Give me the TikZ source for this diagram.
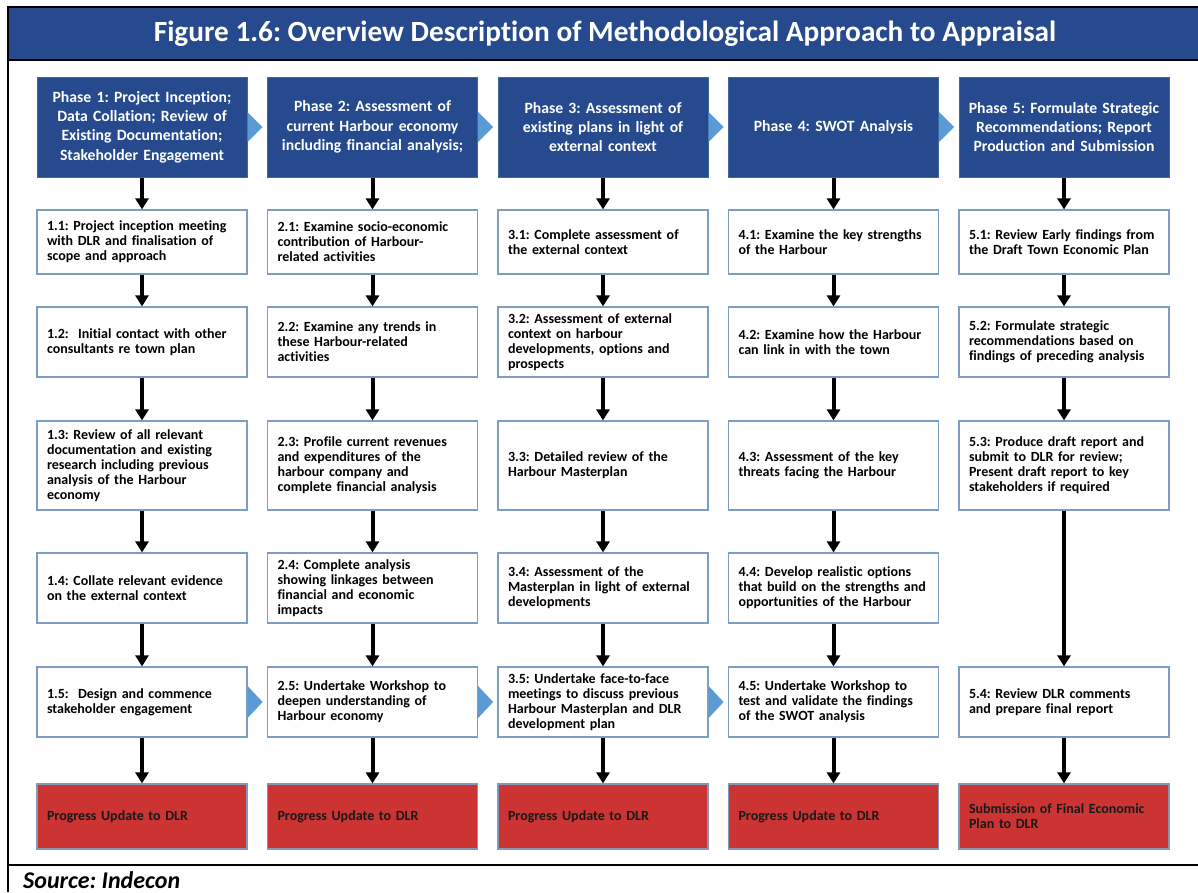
\documentclass[tikz,border=0pt]{standalone}
\usepackage{fontspec}
\setmainfont{Carlito}[Ligatures=NoCommon]
\usetikzlibrary{arrows.meta}
\frenchspacing

\definecolor{navy}{HTML}{264A8D}
\definecolor{phaseedge}{HTML}{3C68A0}
\definecolor{taskedge}{HTML}{7D9CC6}
\definecolor{chev}{HTML}{5B9BD5}
\definecolor{repred}{HTML}{CC3333}
\definecolor{rededge}{HTML}{8497B5}

\tikzset{
  phase/.style={draw=phaseedge, fill=navy, line width=1pt,
    minimum width=210pt, minimum height=100pt, text width=206pt,
    align=center, text=white, inner sep=0pt,
    font=\bfseries\fontsize{15.7}{19.3}\selectfont},
  task/.style={draw=taskedge, fill=white, line width=1.2pt,
    minimum width=210pt, text width=190pt, align=left,
    inner xsep=10pt, inner ysep=0pt,
    font=\bfseries\fontsize{14}{15}\selectfont},
  report/.style={task, fill=repred, draw=rededge, minimum height=65pt,
    text=black!90},
  flow/.style={line width=4pt, -{Triangle[width=13pt,length=11pt]}},
  chevfill/.style={fill=chev, draw=none},
  frame/.style={line width=2.5pt, draw=black}
}

\begin{document}
\begin{tikzpicture}[x=1pt,y=-1pt]
\useasboundingbox (0,0) rectangle (1198,892);
\fill[white] (0,0) rectangle (1198,892);

% title bar and frame
\fill[navy] (8,7) rectangle (1198,60);
\draw[frame] (1198,7) -- (8,7) -- (8,892);
\draw[frame] (8,60) -- (1198,60);
\draw[frame] (8,865) -- (1198,865);
\node[text=white, font=\bfseries\fontsize{29.3}{32}\selectfont] (title) at (605,34)
  {Figure 1.6: Overview Description of Methodological Approach to Appraisal};
\node[anchor=base west, inner sep=0pt, font=\bfseries\itshape\fontsize{24}{26}\selectfont] (source) at (23,888)
  {Source: Indecon};

% phase headers
\node[phase] (p1) at (142,127) {Phase 1: Project Inception;\\Data Collation; Review of\\Existing Documentation;\\Stakeholder Engagement};
\node[phase] (p2) at (372.5,127) {Phase 2: Assessment of\\current Harbour economy\\including financial analysis;};
\node[phase] (p3) at (603,127) {Phase 3: Assessment of\\existing plans in light of\\external context};
\node[phase] (p4) at (833.5,127) {Phase 4: SWOT Analysis};
\node[phase] (p5) at (1064,127) {Phase 5: Formulate Strategic\\Recommendations; Report\\Production and Submission};

% column 1
\node[task, minimum height=64pt] (t11) at (142,242) {1.1: Project inception meeting\\with DLR and finalisation of\\scope and approach};
\node[task, minimum height=70pt] (t12) at (142,342) {1.2:\ \ Initial contact with other\\consultants re town plan};
\node[task, minimum height=89pt] (t13) at (142,465.5) {1.3: Review of all relevant\\documentation and existing\\research including previous\\analysis of the Harbour\\economy};
\node[task, minimum height=70pt] (t14) at (142,588) {1.4: Collate relevant evidence\\on the external context};
\node[task, minimum height=70pt] (t15) at (142,702) {1.5:\ \ Design and commence\\stakeholder engagement};
\node[report] (r1) at (142,816.5) {Progress Update to DLR};

% column 2
\node[task, minimum height=64pt] (t21) at (372.5,242) {2.1: Examine socio-economic\\contribution of Harbour-\\related activities};
\node[task, minimum height=70pt] (t22) at (372.5,342) {2.2: Examine any trends in\\these Harbour-related\\activities};
\node[task, minimum height=89pt] (t23) at (372.5,465.5) {2.3: Profile current revenues\\and expenditures of the\\harbour company and\\complete financial analysis};
\node[task, minimum height=70pt] (t24) at (372.5,588) {2.4: Complete analysis\\showing linkages between\\financial and economic\\impacts};
\node[task, minimum height=70pt] (t25) at (372.5,702) {2.5: Undertake Workshop to\\deepen understanding of\\Harbour economy};
\node[report] (r2) at (372.5,816.5) {Progress Update to DLR};

% column 3
\node[task, minimum height=64pt] (t31) at (603,242) {3.1: Complete assessment of\\the external context};
\node[task, minimum height=70pt] (t32) at (603,342) {3.2: Assessment of external\\context on harbour\\developments, options and\\prospects};
\node[task, minimum height=89pt] (t33) at (603,465.5) {3.3: Detailed review of the\\Harbour Masterplan};
\node[task, minimum height=70pt] (t34) at (603,588) {3.4: Assessment of the\\Masterplan in light of external\\developments};
\node[task, minimum height=70pt] (t35) at (603,702) {3.5: Undertake face-to-face\\meetings to discuss previous\\Harbour Masterplan and DLR\\development plan};
\node[report] (r3) at (603,816.5) {Progress Update to DLR};

% column 4
\node[task, minimum height=64pt] (t41) at (833.5,242) {4.1: Examine the key strengths\\of the Harbour};
\node[task, minimum height=70pt] (t42) at (833.5,342) {4.2: Examine how the Harbour\\can link in with the town};
\node[task, minimum height=89pt] (t43) at (833.5,465.5) {4.3: Assessment of the key\\threats facing the Harbour};
\node[task, minimum height=70pt] (t44) at (833.5,588) {4.4: Develop realistic options\\that build on the strengths and\\opportunities of the Harbour};
\node[task, minimum height=70pt] (t45) at (833.5,702) {4.5: Undertake Workshop to\\test and validate the findings\\of the SWOT analysis};
\node[report] (r4) at (833.5,816.5) {Progress Update to DLR};

% column 5
\node[task, minimum height=64pt] (t51) at (1064,242) {5.1: Review Early findings from\\the Draft Town Economic Plan};
\node[task, minimum height=70pt] (t52) at (1064,342) {5.2: Formulate strategic\\recommendations based on\\findings of preceding analysis};
\node[task, minimum height=89pt] (t53) at (1064,465.5) {5.3: Produce draft report and\\submit to DLR for review;\\Present draft report to key\\stakeholders if required};
\node[task, minimum height=70pt] (t54) at (1064,702) {5.4: Review DLR comments\\and prepare final report};
\node[report] (r5) at (1064,816.5) {Submission of Final Economic\\Plan to DLR};

% vertical flow arrows
\foreach \c in {1,2,3,4}{
  \draw[flow] (p\c.south) -- (t\c1.north);
  \draw[flow] (t\c1.south) -- (t\c2.north);
  \draw[flow] (t\c2.south) -- (t\c3.north);
  \draw[flow] (t\c3.south) -- (t\c4.north);
  \draw[flow] (t\c4.south) -- (t\c5.north);
  \draw[flow] (t\c5.south) -- (r\c.north);
}
\draw[flow] (p5.south) -- (t51.north);
\draw[flow] (t51.south) -- (t52.north);
\draw[flow] (t52.south) -- (t53.north);
\draw[flow] (t53.south) -- (t54.north);
\draw[flow] (t54.south) -- (r5.north);

% chevrons between phases
\foreach \a in {p1,p2,p3,p4}{
  \fill[chevfill] ([yshift=15pt]\a.east) -- ([xshift=15pt]\a.east) -- ([yshift=-15pt]\a.east) -- cycle;
}
% chevrons between the last task boxes
\foreach \a in {t15,t25,t35}{
  \fill[chevfill] ([yshift=16pt]\a.east) -- ([xshift=15pt]\a.east) -- ([yshift=-16pt]\a.east) -- cycle;
}
\end{tikzpicture}
\end{document}
